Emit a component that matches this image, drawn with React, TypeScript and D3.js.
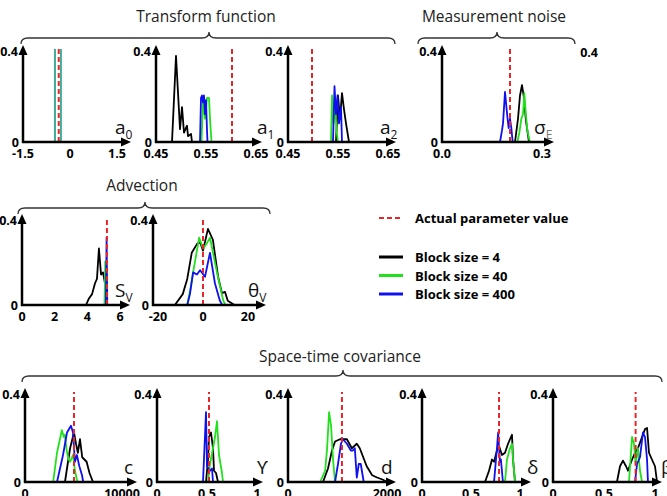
import React from "react";
import * as d3 from "d3";

type Pt = [number, number];

// ---- Transform function ----
const a0Spikes = [-0.48, -0.29];
const a0Actual = -0.36;

const a1Black: Pt[] = [[0.482, 0], [0.49, 0.37], [0.498, 0.055], [0.502, 0.15], [0.506, 0.04], [0.512, 0.07], [0.514, 0.025], [0.52, 0.035], [0.522, 0]];
const a1Green: Pt[] = [[0.541, 0], [0.544, 0.18], [0.548, 0.1], [0.552, 0.19], [0.556, 0.19], [0.558, 0.1], [0.561, 0]];
const a1Blue: Pt[] = [[0.538, 0], [0.54, 0.19], [0.542, 0.2], [0.544, 0.17], [0.546, 0.2], [0.548, 0.12], [0.55, 0.18], [0.552, 0.05], [0.553, 0]];
const a1Actual = 0.602;

const a2Black: Pt[] = [[0.546, 0], [0.55, 0.2], [0.554, 0.1], [0.558, 0.21], [0.562, 0.14], [0.566, 0.08], [0.572, 0]];
const a2Green: Pt[] = [[0.536, 0], [0.538, 0.2], [0.541, 0.08], [0.544, 0.17], [0.547, 0.05], [0.55, 0]];
const a2Blue: Pt[] = [[0.54, 0], [0.543, 0.24], [0.546, 0.12], [0.549, 0.2], [0.552, 0.08], [0.556, 0.15], [0.558, 0]];
const a2Actual = 0.498;

// ---- Measurement noise ----
const seBlack: Pt[] = [[0.219, 0], [0.228, 0.1], [0.234, 0.2], [0.24, 0.245], [0.246, 0.19], [0.252, 0.09], [0.261, 0]];
const seGreen: Pt[] = [[0.226, 0], [0.232, 0.04], [0.238, 0.1], [0.243, 0.12], [0.247, 0.21], [0.251, 0.13], [0.256, 0.05], [0.262, 0.01], [0.265, 0]];
const seBlue: Pt[] = [[0.174, 0], [0.18, 0.05], [0.183, 0.08], [0.189, 0.215], [0.192, 0.17], [0.196, 0.11], [0.2, 0.06], [0.204, 0.1], [0.208, 0.06], [0.212, 0]];
const seActual = 0.204;

// ---- Advection ----
const svBlack: Pt[] = [[3.92, 0], [4.1, 0.03], [4.29, 0.05], [4.47, 0.1], [4.59, 0.12], [4.71, 0.26], [4.84, 0.14], [4.96, 0.15], [5.08, 0.1], [5.14, 0]];
const svGreen: Pt[] = [[5.05, 0], [5.1, 0.2], [5.15, 0.15], [5.2, 0]];
const svBlue: Pt[] = [[5.14, 0], [5.18, 0.31], [5.22, 0]];
const svActual = 5.2;

const tvBlack: Pt[] = [[-12.5, 0], [-9, 0.05], [-7, 0.12], [-5, 0.24], [-2.7, 0.28], [-1.3, 0.29], [0, 0.25], [2.2, 0.35], [4.4, 0.3], [6.7, 0.13], [8.4, 0.055], [9.8, 0.06], [11, 0.02], [14, 0]];
const tvGreen: Pt[] = [[-7, 0], [-5.5, 0.08], [-4.4, 0.15], [-1.7, 0.31], [0, 0.26], [1.5, 0.28], [3.1, 0.31], [6.2, 0.15], [9, 0.02], [10, 0]];
const tvBlue: Pt[] = [[-7, 0], [-5.8, 0.05], [-4.4, 0.15], [-2.7, 0.14], [-1.3, 0.16], [0.9, 0.13], [3.1, 0.24], [5.3, 0.1], [7.5, 0.02], [8.5, 0]];
const tvActual = 0;

// ---- Space-time covariance ----
const cBlack: Pt[] = [[4120, 0], [4400, 0.08], [4650, 0.15], [5050, 0.22], [5260, 0.17], [5450, 0.13], [5670, 0.19], [5900, 0.11], [6350, 0.09], [6650, 0.04], [7010, 0]];
const cGreen: Pt[] = [[2900, 0], [3300, 0.13], [3500, 0.17], [3800, 0.23], [4000, 0.2], [4100, 0.21], [4300, 0.14], [4500, 0.1], [4650, 0.09], [4950, 0.12], [5150, 0.05], [5400, 0]];
const cBlue: Pt[] = [[3300, 0], [3610, 0.06], [3920, 0.12], [4330, 0.22], [4740, 0.25], [4950, 0.22], [5150, 0.09], [5350, 0.12], [5600, 0.07], [5880, 0.03], [6000, 0]];
const cActual = 5050;

const gBlack: Pt[] = [[0.49, 0], [0.51, 0.1], [0.52, 0.2], [0.54, 0.22], [0.56, 0.15], [0.57, 0.05], [0.59, 0.04], [0.61, 0]];
const gGreen: Pt[] = [[0.51, 0], [0.53, 0.08], [0.56, 0.15], [0.58, 0.2], [0.6, 0.27], [0.62, 0.12], [0.65, 0.04], [0.66, 0]];
const gBlue: Pt[] = [[0.46, 0], [0.49, 0.31], [0.5, 0.07], [0.53, 0.05], [0.55, 0.06], [0.56, 0]];
const gActual = 0.52;

const dBlack: Pt[] = [[707, 0], [808, 0.06], [889, 0.14], [950, 0.18], [1050, 0.19], [1190, 0.19], [1290, 0.15], [1390, 0.17], [1450, 0.15], [1590, 0.07], [1700, 0.03], [1800, 0.02], [1920, 0.01], [2000, 0]];
const dGreen: Pt[] = [[650, 0], [750, 0.05], [790, 0.15], [830, 0.31], [870, 0.25], [910, 0.1], [950, 0]];
const dBlue: Pt[] = [[950, 0], [1010, 0.08], [1070, 0.17], [1110, 0.19], [1190, 0.17], [1270, 0.14], [1310, 0.14], [1350, 0.15], [1390, 0.02], [1430, 0.08], [1470, 0.08], [1530, 0]];
const dActual = 1090;

const deBlack: Pt[] = [[0.643, 0], [0.684, 0.05], [0.714, 0.1], [0.735, 0.09], [0.765, 0.14], [0.786, 0.16], [0.816, 0.12], [0.847, 0.13], [0.878, 0.17], [0.918, 0.21], [0.929, 0.1], [0.949, 0]];
const deGreen: Pt[] = [[0.847, 0], [0.867, 0.1], [0.898, 0.15], [0.918, 0.17], [0.929, 0.1], [0.949, 0]];
const deBlue: Pt[] = [[0.735, 0], [0.765, 0.15], [0.777, 0.22], [0.795, 0.09], [0.805, 0.1], [0.826, 0]];
const deActual = 0.786;

const bBlack: Pt[] = [[0.627, 0], [0.657, 0.07], [0.686, 0.095], [0.716, 0.07], [0.735, 0.05], [0.775, 0.1], [0.804, 0.13], [0.833, 0.15], [0.873, 0.2], [0.902, 0.235], [0.922, 0.24], [0.941, 0.13], [0.97, 0.1], [1.0, 0.07], [1.02, 0]];
const bGreen: Pt[] = [[0.745, 0], [0.775, 0.2], [0.794, 0.17], [0.81, 0.08], [0.833, 0.15], [0.853, 0.05], [0.873, 0]];
const bBlue: Pt[] = [[0.804, 0], [0.824, 0.08], [0.853, 0.11], [0.882, 0.22], [0.902, 0.2], [0.922, 0.1], [0.931, 0]];
const bActual = 0.81;

const legendItems = ["Block size = 4", "Block size = 40", "Block size = 400"];
const seriesColors = ["#000000", "#22e01e", "#1010ee"];

const FONT = "'Open Sans', 'DejaVu Sans', sans-serif";

type PanelProps = {
  axisX: number; r0: number; r1: number; xEnd: number; y0: number; yTop: number;
  domain: [number, number]; ticks: number[]; tickText: string[];
  label: string; sub?: string; subColor?: string; labelX: number;
  black?: Pt[]; green?: Pt[]; blue?: Pt[]; spikes?: number[]; actual: number;
};

const Panel = (p: PanelProps) => {
  const x = d3.scaleLinear().domain(p.domain).range([p.r0, p.r1]);
  const y = d3.scaleLinear().domain([0, 0.4]).range([p.y0, p.yTop]);
  const line = d3.line<Pt>().x((d) => x(d[0])).y((d) => y(d[1]));
  const series = [p.black, p.green, p.blue];
  const tipY = p.yTop - 4;
  return (
    <g>
      {series.map((s, i) =>
        s ? <path key={i} d={line(s) || ""} fill="none" stroke={seriesColors[i]} strokeWidth={1.8} strokeLinejoin="round" /> : null
      )}
      {p.spikes?.map((v, i) => (
        <line key={i} x1={x(v)} x2={x(v)} y1={p.y0} y2={y(0.4)} stroke="#3aae98" strokeWidth={2} />
      ))}
      <line x1={x(p.actual)} x2={x(p.actual)} y1={p.y0} y2={y(0.4)} stroke="#e8262a" strokeWidth={2} strokeDasharray="5,3" />
      {/* axes */}
      <line x1={p.axisX} x2={p.axisX} y1={p.y0 + 1} y2={tipY + 8} stroke="#000" strokeWidth={2.5} />
      <path d={`M${p.axisX - 4.5},${tipY + 10} L${p.axisX},${tipY} L${p.axisX + 4.5},${tipY + 10} Z`} fill="#000" />
      <line x1={p.axisX - 1} x2={p.xEnd - 8} y1={p.y0} y2={p.y0} stroke="#000" strokeWidth={2.5} />
      <path d={`M${p.xEnd - 10},${p.y0 - 4.5} L${p.xEnd},${p.y0} L${p.xEnd - 10},${p.y0 + 4.5} Z`} fill="#000" />
      <text x={p.axisX - 5} y={p.yTop + 7} textAnchor="end" fontSize={12.5} fontWeight="bold" fontFamily={FONT}>0.4</text>
      <text x={p.axisX - 4} y={p.y0 + 5} textAnchor="end" fontSize={12.5} fontWeight="bold" fontFamily={FONT}>0</text>
      {p.ticks.map((t, i) => (
        <text key={i} x={x(t)} y={p.y0 + 16} textAnchor="middle" fontSize={12.5} fontWeight="bold" fontFamily={FONT}>{p.tickText[i]}</text>
      ))}
      <text x={p.labelX} y={p.y0 - 8} fontSize={19} fontFamily={FONT} fill="#111">
        {p.label}
        {p.sub ? <tspan dy={5} fontSize={12} fill={p.subColor || "#111"}>{p.sub}</tspan> : null}
      </text>
    </g>
  );
};

const bracePath = (x1: number, x2: number, yEnd: number, yLine: number, cx: number, yTip: number) => {
  const r = 7;
  return `M${x1},${yEnd} Q${x1},${yLine} ${x1 + r},${yLine} L${cx - r},${yLine} Q${cx},${yLine} ${cx},${yTip} Q${cx},${yLine} ${cx + r},${yLine} L${x2 - r},${yLine} Q${x2},${yLine} ${x2},${yEnd}`;
};

const Group = ({ title, x1, x2, cx, yTitle, yLine }: { title: string; x1: number; x2: number; cx: number; yTitle: number; yLine: number }) => (
  <g>
    <text x={cx - 3} y={yTitle} textAnchor="middle" fontSize={15.5} fontFamily={FONT} fill="#222">{title}</text>
    <path d={bracePath(x1, x2, yLine + 6, yLine, cx, yLine - 6)} fill="none" stroke="#333" strokeWidth={1.3} />
  </g>
);

export default function App() {
  const r1 = { y0: 142, yTop: 49 };
  const r2 = { y0: 305, yTop: 218 };
  const r3 = { y0: 482, yTop: 392 };
  return (
    <svg width={667} height={496} style={{ position: "absolute", left: 0, top: 0, background: "#fff" }}>
      <rect width={667} height={496} fill="#fff" />
      <Group title="Transform function" x1={21} x2={395} cx={209} yTitle={22} yLine={38} />
      <Group title="Measurement noise" x1={418} x2={575} cx={497} yTitle={22} yLine={38} />
      <Group title="Advection" x1={18} x2={270} cx={145} yTitle={191} yLine={208} />
      <Group title="Space-time covariance" x1={22} x2={662} cx={343} yTitle={362} yLine={376} />

      <Panel {...r1} axisX={23} r0={23} r1={117} xEnd={131} labelX={115} domain={[-1.5, 1.5]} ticks={[-1.5, 0, 1.5]} tickText={["-1.5", "0", "1.5"]} label="a" sub="0" spikes={a0Spikes} actual={a0Actual} />
      <Panel {...r1} axisX={156} r0={156} r1={256} xEnd={262} labelX={257} domain={[0.45, 0.65]} ticks={[0.45, 0.55, 0.65]} tickText={["0.45", "0.55", "0.65"]} label="a" sub="1" black={a1Black} green={a1Green} blue={a1Blue} actual={a1Actual} />
      <Panel {...r1} axisX={288} r0={288} r1={388} xEnd={396} labelX={380} domain={[0.45, 0.65]} ticks={[0.45, 0.55, 0.65]} tickText={["0.45", "0.55", "0.65"]} label="a" sub="2" black={a2Black} green={a2Green} blue={a2Blue} actual={a2Actual} />
      <Panel {...r1} axisX={442} r0={442} r1={542} xEnd={554} labelX={534} domain={[0, 0.3]} ticks={[0, 0.3]} tickText={["0.0", "0.3"]} label="σ" sub="E" subColor="#777" black={seBlack} green={seGreen} blue={seBlue} actual={seActual} />
      <text x={598} y={57} textAnchor="end" fontSize={12.5} fontWeight="bold" fontFamily={FONT}>0.4</text>

      <Panel {...r2} axisX={22} r0={22} r1={120} xEnd={130} labelX={115} domain={[0, 6]} ticks={[0, 2, 4, 6]} tickText={["0", "2", "4", "6"]} label="S" sub="V" black={svBlack} green={svGreen} blue={svBlue} actual={svActual} />
      <Panel {...r2} axisX={153} r0={158} r1={248} xEnd={266} labelX={248} domain={[-20, 20]} ticks={[-20, 0, 20]} tickText={["-20", "0", "20"]} label="θ" sub="V" black={tvBlack} green={tvGreen} blue={tvBlue} actual={tvActual} />

      <Panel {...r3} axisX={25} r0={25} r1={122} xEnd={137} labelX={124} domain={[0, 10000]} ticks={[0, 10000]} tickText={["0", "10000"]} label="c" black={cBlack} green={cGreen} blue={cBlue} actual={cActual} />
      <Panel {...r3} axisX={157} r0={157} r1={257} xEnd={263} labelX={257} domain={[0, 1]} ticks={[0, 0.5, 1]} tickText={["0", "0.5", "1"]} label="ϒ" black={gBlack} green={gGreen} blue={gBlue} actual={gActual} />
      <Panel {...r3} axisX={288} r0={288} r1={387} xEnd={396} labelX={381} domain={[0, 2000]} ticks={[0, 2000]} tickText={["0", "2000"]} label="d" black={dBlack} green={dGreen} blue={dBlue} actual={dActual} />
      <Panel {...r3} axisX={422} r0={422} r1={520} xEnd={531} labelX={527} domain={[0, 1]} ticks={[0, 0.5, 1]} tickText={["0", "0.5", "1"]} label="δ" black={deBlack} green={deGreen} blue={deBlue} actual={deActual} />
      <Panel {...r3} axisX={553} r0={553} r1={655} xEnd={662} labelX={661} domain={[0, 1]} ticks={[0, 0.5, 1]} tickText={["0", "0.5", "1"]} label="β" black={bBlack} green={bGreen} blue={bBlue} actual={bActual} />

      {/* legend */}
      <line x1={379} x2={403} y1={218} y2={218} stroke="#e8262a" strokeWidth={2} strokeDasharray="5,3" />
      <text x={415} y={223} fontSize={13} fontWeight="bold" fontFamily={FONT}>Actual parameter value</text>
      {legendItems.map((t, i) => (
        <g key={t}>
          <line x1={379} x2={403} y1={257 + i * 18.5} y2={257 + i * 18.5} stroke={seriesColors[i]} strokeWidth={3} />
          <text x={415} y={262 + i * 18.5} fontSize={13} fontWeight="bold" fontFamily={FONT}>{t}</text>
        </g>
      ))}
    </svg>
  );
}
